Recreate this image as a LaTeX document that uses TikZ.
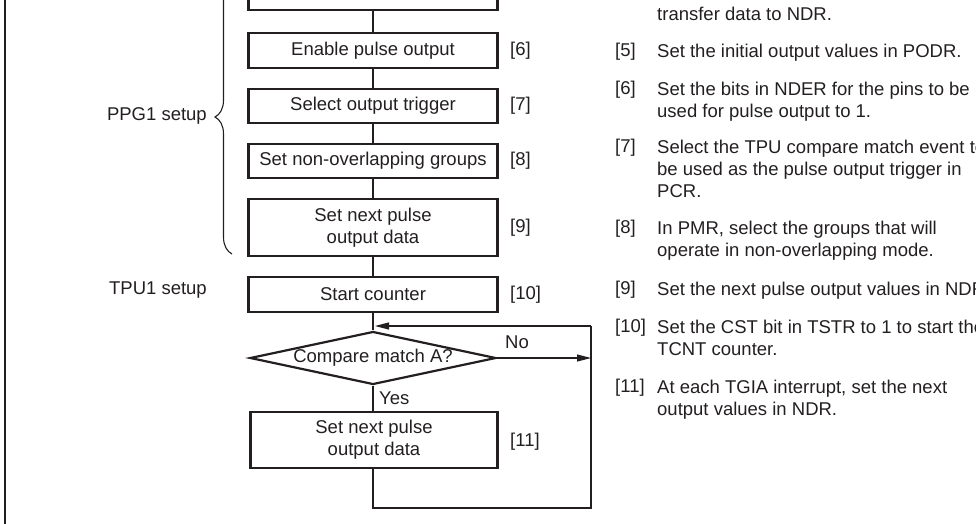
\documentclass[tikz,border=0pt]{standalone}
\usepackage{fontspec}
\setmainfont{Liberation Sans}
\usepackage{tikz}
\usetikzlibrary{arrows.meta,positioning,shapes.geometric,decorations.pathreplacing}
\definecolor{ink}{HTML}{231F20}

\begin{document}
\begin{tikzpicture}[
  x=1pt, y=-1pt,
  every node/.style={font=\fontsize{18.5}{22}\selectfont, text=ink},
  proc/.style={draw=ink, line width=2.2pt, minimum width=249pt, minimum height=35pt, align=center, inner sep=0pt},
  dec/.style={draw=ink, line width=2.2pt, shape=diamond, minimum width=246pt, minimum height=53pt, inner sep=0pt},
  conn/.style={draw=ink, line width=1.1pt},
  arrow/.style={conn, -{Triangle[length=14pt, width=7pt]}},
  tag/.style={anchor=west, inner sep=0pt},
  note/.style={anchor=north west, align=left, inner sep=0pt}
]
\useasboundingbox (0,0) rectangle (976,523);
\clip (0,0) rectangle (976,523);

\coordinate (frtop) at (5,-10);
\coordinate (frbot) at (5,540);
\draw[ink, line width=2pt] (frtop) -- (frbot);

\node[proc, minimum height=45pt] (b5) at (373,-12.5) {};
\node[proc] (b6) at (373,50.5) {Enable pulse output};
\node[proc, minimum height=34pt] (b7) at (373,106) {Select output trigger};
\node[proc, minimum height=34pt] (b8) at (373,161) {Set non-overlapping groups};
\node[proc, minimum height=57pt] (b9) at (373,227.5) {Set next pulse\\output data};
\node[proc] (b10) at (373,294.5) {Start counter};
\node[dec] (cmp) at (373,358) {};
\node (cmptxt) at (cmp.center) {Compare match A?};
\node[proc, minimum width=247pt, minimum height=56pt] (b11) at (374,440) {Set next pulse\\output data};

\node[tag] (l6) at (510,50.5) {[6]};
\node[tag] (l7) at (510,106) {[7]};
\node[tag] (l8) at (510,161) {[8]};
\node[tag] (l9) at (510,227.5) {[9]};
\node[tag] (l10) at (510,294.5) {[10]};
\node[tag] (l11) at (510,442) {[11]};

\node[anchor=east, inner sep=0pt] (ppg) at (207,116) {PPG1 setup};
\node[anchor=east, inner sep=0pt] (tpu) at (207,290) {TPU1 setup};
\coordinate (brbot) at (232,254);
\coordinate (brtop) at (232,-20);
\draw[conn, decorate, decoration={brace, amplitude=17pt}] (brbot) -- (brtop);

\node[tag] (no) at (505,342) {No};
\node[tag] (yes) at (379,398) {Yes};

\coordinate (lpbot) at (373,508);
\coordinate (lpright) at (591,508);
\coordinate (lptop) at (591,326);
\coordinate (lpjoin) at (375,326);

\draw[conn] (b5.south) -- (b6.north);
\draw[conn] (b6.south) -- (b7.north);
\draw[conn] (b7.south) -- (b8.north);
\draw[conn] (b8.south) -- (b9.north);
\draw[conn] (b9.south) -- (b10.north);
\draw[conn] (b10.south) -- (cmp.north);
\draw[conn] (cmp.south) -- (cmp.south |- b11.north);
\draw[conn] (b11.south -| lpbot) -- (lpbot) -- (lpright) -- (lptop);
\draw[arrow] (lptop) -- (lpjoin);
\draw[arrow] (cmp.east) -- (cmp.east -| lptop);

\node[note] (t4) at (657,6.5) {transfer data to NDR.};
\node[tag] (r5) at (615,52) {[5]};
\node[note] (t5) at (657,43.5) {Set the initial output values in PODR.};
\node[tag] (r6) at (615,90) {[6]};
\node[note] (t6) at (657,81.5) {Set the bits in NDER for the pins to be\\used for pulse output to 1.};
\node[tag] (r7) at (615,148) {[7]};
\node[note] (t7) at (657,139.5) {Select the TPU compare match event to\\be used as the pulse output trigger in\\PCR.};
\node[tag] (r8) at (615,229) {[8]};
\node[note] (t8) at (657,220.5) {In PMR, select the groups that will\\operate in non-overlapping mode.};
\node[tag] (r9) at (615,290) {[9]};
\node[note] (t9) at (657,281.5) {Set the next pulse output values in NDR.};
\node[tag] (r10) at (615,328) {[10]};
\node[note] (t10) at (657,319.5) {Set the CST bit in TSTR to 1 to start the\\TCNT counter.};
\node[tag] (r11) at (615,388) {[11]};
\node[note] (t11) at (657,379.5) {At each TGIA interrupt, set the next\\output values in NDR.};
\end{tikzpicture}
\end{document}
